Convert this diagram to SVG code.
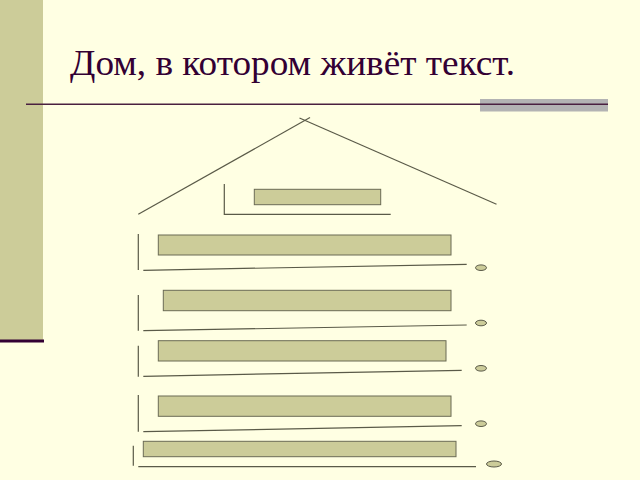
<svg xmlns="http://www.w3.org/2000/svg" width="640" height="480" viewBox="0 0 640 480">
<style>
.ln{stroke:#5a5a48;stroke-width:1.2;fill:none}
.box{fill:#CCCC99;stroke:#6b6b55;stroke-width:1}
.dot{fill:#CCCC99;stroke:#5a5a48;stroke-width:1}
.title{font-family:"Liberation Serif","DejaVu Serif",serif;font-size:36px;fill:#330033}
</style>
<rect x="0" y="0" width="640" height="480" fill="#FFFFE3"/>
<rect x="0" y="0" width="43" height="340" fill="#CCCC99"/>
<rect x="0" y="339.5" width="44" height="3" fill="#330033"/>
<rect x="480" y="99" width="128" height="12.5" fill="#B3B3B3"/>
<line x1="26" y1="104.3" x2="608" y2="104.3" stroke="#4a2040" stroke-width="1.6"/>
<text class="title" x="70" y="75" textLength="445" lengthAdjust="spacingAndGlyphs">Дом, в котором живёт текст.</text>
<g id="connectors">
<line class="ln" x1="138.3" y1="214.3" x2="310" y2="117.5"/>
<line class="ln" x1="299.5" y1="118" x2="496.5" y2="204.3"/>
<polyline class="ln" points="224.3,184 224.3,214.3 390.7,214.3"/>
<line class="ln" x1="138.3" y1="234" x2="138.3" y2="270"/>
<line class="ln" x1="143.3" y1="270.3" x2="466.7" y2="264.3"/>
<line class="ln" x1="138.3" y1="295" x2="138.3" y2="330.7"/>
<line class="ln" x1="143.3" y1="330.7" x2="466.7" y2="325"/>
<line class="ln" x1="138.3" y1="345.7" x2="138.3" y2="376.7"/>
<line class="ln" x1="143.3" y1="376.3" x2="461.7" y2="370.3"/>
<line class="ln" x1="138.3" y1="395" x2="138.3" y2="431.7"/>
<line class="ln" x1="143.3" y1="431.7" x2="461.7" y2="425.7"/>
<line class="ln" x1="133.3" y1="445.7" x2="133.3" y2="465.7"/>
<line class="ln" x1="138.3" y1="466.7" x2="476" y2="466.7"/>
</g>
<g id="node-top"><rect class="box" x="254.3" y="189.3" width="126.4" height="15.4"/></g>
<g id="node-row1"><rect class="box" x="158.3" y="235" width="292.7" height="20"/><ellipse class="dot" cx="481" cy="267.7" rx="5.5" ry="2.8"/></g>
<g id="node-row2"><rect class="box" x="163.3" y="290.3" width="287.7" height="20.4"/><ellipse class="dot" cx="481" cy="323" rx="5.5" ry="2.8"/></g>
<g id="node-row3"><rect class="box" x="158.3" y="340.7" width="287.7" height="20.3"/><ellipse class="dot" cx="481" cy="368.3" rx="5.5" ry="2.8"/></g>
<g id="node-row4"><rect class="box" x="158.3" y="396" width="292.7" height="20.3"/><ellipse class="dot" cx="481" cy="423.7" rx="5.5" ry="2.8"/></g>
<g id="node-row5"><rect class="box" x="143.3" y="441.3" width="312.7" height="15.4"/><ellipse class="dot" cx="494" cy="464" rx="7.5" ry="3"/></g>
</svg>
